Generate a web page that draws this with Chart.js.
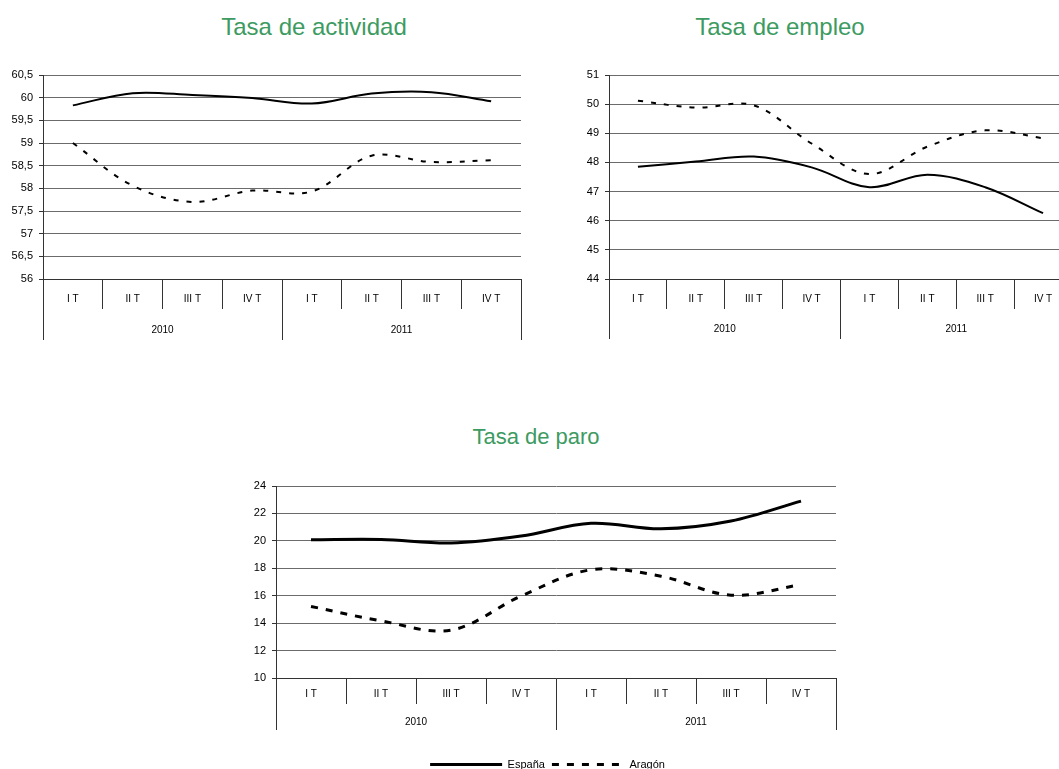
<!DOCTYPE html>
<html lang="es">
<head>
<meta charset="utf-8">
<title>Tasas de actividad, empleo y paro</title>
<script src="https://cdn.jsdelivr.net/npm/chart.js@4.4.1/dist/chart.umd.min.js"></script>
<style>
    html, body { margin: 0; padding: 0; width: 1059px; height: 769px; overflow: hidden; background: #fff; }
    .title {
        position: absolute;
        font-family: 'Liberation Sans', Arial, sans-serif;
        font-size: 24px;
        line-height: 1;
        color: #3d9b62;
        white-space: nowrap;
        transform: translateX(-50%);
    }
    canvas { position: absolute; }
</style>
</head>
<body>
<div class="title" style="left:314px; top:15px;">Tasa de actividad</div>
<div class="title" style="left:780px; top:15px;">Tasa de empleo</div>
<div class="title" style="left:536px; top:426px; font-size:22px;">Tasa de paro</div>

<canvas id="actividadChart" width="540" height="290" style="left:0; top:60px;"></canvas>
<canvas id="empleoChart" width="540" height="290" style="left:540px; top:60px;"></canvas>
<canvas id="paroChart" width="620" height="310" style="left:230px; top:470px;"></canvas>

<script>
// Categories
const quarters = ['I T', 'II T', 'III T', 'IV T', 'I T', 'II T', 'III T', 'IV T'];
const years = ['2010', '2011'];
const seriesNames = ['España', 'Aragón'];

// Tasa de actividad
const actividadEspana = [59.83, 60.10, 60.06, 59.99, 59.87, 60.09, 60.12, 59.92];
const actividadAragon = [59.00, 58.06, 57.70, 57.95, 57.93, 58.72, 58.58, 58.62];
const actividadTicks = [56, 60.5, 0.5];

// Tasa de empleo
const empleoEspana = [47.85, 48.03, 48.20, 47.83, 47.15, 47.58, 47.15, 46.26];
const empleoAragon = [50.12, 49.88, 49.96, 48.65, 47.60, 48.54, 49.10, 48.83];
const empleoTicks = [44, 51, 1];

// Tasa de paro
const paroEspana = [20.08, 20.10, 19.84, 20.35, 21.28, 20.88, 21.45, 22.90];
const paroAragon = [15.22, 14.17, 13.49, 15.97, 17.89, 17.42, 16.04, 16.80];
const paroTicks = [10, 24, 2];

const GRID = '#6b6b6b';
const AXIS = '#333';

Chart.defaults.font.family = "'Liberation Sans', Arial, sans-serif";
Chart.defaults.color = '#000';

// moves the legend sideways without touching the chart area
const legendOffset = {
    id: 'legendOffset',
    afterLayout(chart, args, opts) {
        if (chart.legend && opts.dx) {
            chart.legend.left += opts.dx;
            chart.legend.right += opts.dx;
        }
    }
};

document.addEventListener('DOMContentLoaded', () => {
    buildChart('actividadChart', actividadEspana, actividadAragon, actividadTicks, {
        padding: { left: 0, top: 15, right: 19, bottom: 10 },
        yWidth: 43, rows: [30, 31, 31], pads: [-15.5, -15.5],
        line: 2, dash: [5, 8], legend: false
    });
    buildChart('empleoChart', empleoEspana, empleoAragon, empleoTicks, {
        padding: { left: 0, top: 15, right: 8, bottom: 11 },
        yWidth: 69, rows: [30, 30, 30], pads: [-16, -16],
        line: 2, dash: [5, 8], legend: false
    });
    buildChart('paroChart', paroEspana, paroAragon, paroTicks, {
        padding: { left: 0, top: 16, right: 14, bottom: 0 },
        yWidth: 46, rows: [26, 26, 48], pads: [-16, -13.5],
        line: 3, dash: [7, 8], legend: true
    });
});

function formatTick(value) {
    return String(value).replace('.', ',');
}

function legendLabels(chart) {
    const items = Chart.defaults.plugins.legend.labels.generateLabels(chart);
    return items.map((item, i) => {
        item.lineDash = chart.data.datasets[i].borderDash || [];
        return item;
    });
}

function buildChart(id, espana, aragon, ticks, box) {
    const ctx = document.getElementById(id).getContext('2d');

    const legend = box.legend ? {
        display: true,
        position: 'bottom',
        labels: {
            usePointStyle: true,
            pointStyle: 'line',
            pointStyleWidth: 72,
            padding: 7,
            color: '#000',
            font: { size: 11 },
            generateLabels: legendLabels
        }
    } : { display: false };

    return new Chart(ctx, {
        type: 'line',
        data: {
            labels: quarters,
            datasets: [{
                label: seriesNames[0],
                data: espana,
                borderColor: '#000',
                borderWidth: box.line,
                tension: 0.35,
                pointRadius: 0,
                fill: false
            }, {
                label: seriesNames[1],
                data: aragon,
                borderColor: '#000',
                borderWidth: box.line,
                borderDash: box.dash,
                tension: 0.35,
                pointRadius: 0,
                fill: false
            }]
        },
        plugins: [legendOffset],
        options: {
            responsive: false,
            animation: false,
            devicePixelRatio: 1,
            layout: { padding: box.padding },
            plugins: {
                legend: legend,
                legendOffset: { dx: box.legend ? 14.5 : 0 },
                tooltip: { enabled: false }
            },
            scales: {
                x: {
                    type: 'category',
                    position: 'bottom',
                    offset: true,
                    grid: { offset: true, drawOnChartArea: false, tickLength: box.rows[0], color: AXIS },
                    border: { color: AXIS },
                    ticks: { padding: box.pads[0], font: { size: 10 }, maxRotation: 0, autoSkip: false },
                    afterFit: s => { s.height = box.rows[0]; }
                },
                x2: {
                    type: 'category',
                    position: 'bottom',
                    labels: years,
                    offset: true,
                    grid: { offset: true, drawOnChartArea: false, tickLength: box.rows[1], color: AXIS },
                    border: { display: false },
                    ticks: { padding: box.pads[1], font: { size: 10 }, maxRotation: 0, autoSkip: false },
                    afterFit: s => { s.height = box.rows[2]; }
                },
                y: {
                    min: ticks[0],
                    max: ticks[1],
                    ticks: { stepSize: ticks[2], padding: 6, font: { size: 11 }, callback: formatTick },
                    grid: { color: GRID, tickLength: 4, tickColor: AXIS },
                    border: { color: AXIS },
                    afterFit: s => { s.width = box.yWidth; }
                }
            }
        }
    });
}
</script>
</body>
</html>
